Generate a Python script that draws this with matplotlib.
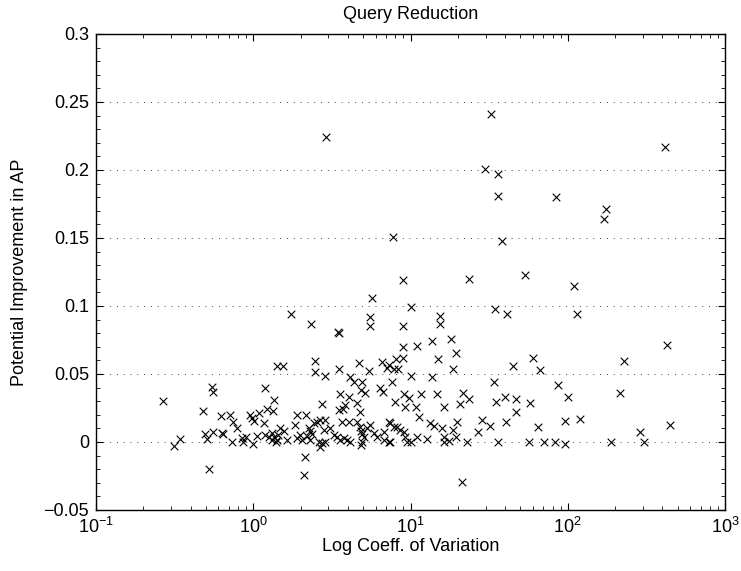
import matplotlib
matplotlib.use("Agg")
import matplotlib.pyplot as plt
from matplotlib.ticker import MultipleLocator, FuncFormatter, LogLocator, FixedLocator

plt.rcParams['font.family'] = ['Liberation Sans', 'DejaVu Sans']
plt.rcParams['mathtext.default'] = 'regular'

title = "Query Reduction"
xlabel = "Log Coeff. of Variation"
ylabel = "Potential Improvement in AP"

coeff_var = [
    2.90, 32.5, 417, 29.9, 36.2, 36.2, 83.6, 175, 169, 7.74, 38.4, 9.0, 23.7, 53.2, 110,
    10.1, 34.3, 40.8, 115, 9.0, 15.5, 15.3, 13.7, 18.2, 9.0, 11.0, 428, 5.65, 1.73, 2.32,
    3.44, 3.49, 5.51, 5.56, 8.11, 15.0, 19.6, 7.83, 8.30, 18.5, 10.1, 13.7, 7.64, 34.0, 44.9,
    60.1, 66.7, 229, 86.7, 101, 215, 9.06, 8.02, 9.75, 11.6, 14.8, 9.29, 10.9, 11.3, 16.3,
    21.7, 23.5, 20.6, 13.4, 14.1, 19.8, 15.9, 18.5, 16.3, 19.4, 17.5, 16.3, 11.0, 12.7, 9.53,
    10.0, 9.29, 8.63, 8.22, 7.83, 7.46, 7.46, 23.0, 26.8, 28.6, 32.0, 34.8, 39.9, 40.3, 46.9,
    46.9, 57.3, 64.4, 95.7, 120, 288, 449, 36.0, 56.7, 70.6, 83.0, 95.7, 188, 306, 21.3,
    9.06, 0.268, 0.315, 0.340, 0.525, 0.479, 0.495, 0.507, 0.546, 0.551, 0.553, 0.622, 0.632,
    0.64, 0.714, 0.743, 0.787, 0.728, 0.847, 0.899, 0.859, 0.947, 0.981, 1.005, 0.996, 1.056,
    1.09, 1.19, 1.175, 1.23, 1.33, 1.36, 1.42, 1.54, 1.19, 1.26, 1.31, 1.36, 1.42, 1.49,
    1.56, 1.64, 1.40, 1.31, 1.44, 1.85, 1.90, 1.97, 1.90, 2.04, 2.12, 2.09, 2.15, 2.25,
    2.31, 2.36, 2.20, 2.29, 2.42, 2.55, 2.67, 2.88, 2.61, 2.67, 2.72, 2.88, 2.81, 2.48,
    2.46, 2.88, 2.72, 3.49, 3.58, 3.49, 3.71, 3.86, 4.05, 4.15, 4.36, 4.71, 4.92, 4.81,
    5.17, 4.58, 4.75, 4.05, 5.42, 6.44, 6.70, 6.61, 7.11, 7.28, 3.09, 3.25, 3.41, 3.58,
    3.76, 3.95, 4.15, 3.67, 4.58, 4.75, 4.81, 4.92, 5.05, 4.92, 4.86, 5.30, 5.56, 5.83,
    6.13, 6.77, 7.28, 6.77, 7.28, 9.0,
]
improvement = [
    0.224, 0.241, 0.217, 0.201, 0.197, 0.181, 0.180, 0.171, 0.164, 0.151, 0.148, 0.119, 0.120, 0.123, 0.115,
    0.099, 0.098, 0.094, 0.094, 0.085, 0.093, 0.087, 0.0745, 0.076, 0.070, 0.0706, 0.0713, 0.106, 0.094, 0.087,
    0.081, 0.080, 0.092, 0.085, 0.061, 0.061, 0.0657, 0.054, 0.054, 0.0537, 0.0488, 0.0476, 0.0443, 0.0439, 0.0559,
    0.062, 0.0527, 0.0598, 0.0419, 0.0329, 0.0358, 0.0353, 0.0296, 0.0321, 0.0351, 0.0351, 0.026, 0.026, 0.0186, 0.026,
    0.0358, 0.0316, 0.0279, 0.0142, 0.0118, 0.0149, 0.010, 0.0088, 0.0039, 0.0039, 0.0007, 0.0002, 0.0035, 0.0022, 0.0002,
    0.0002, 0.0035, 0.0088, 0.0113, 0.0113, 0.0137, 0.0002, -0.0002, 0.0071, 0.0162, 0.0118, 0.0296, 0.0329, 0.0149, 0.0316,
    0.0218, 0.0289, 0.0108, 0.0157, 0.0169, 0.0071, 0.0125, 0.0, 0.0, 0.0, 0.0, -0.0015, 0.0, 0.0, -0.0292,
    0.0076, 0.0301, -0.0029, 0.002, -0.0199, 0.023, 0.0059, 0.0024, 0.0402, 0.0368, 0.0076, 0.0189, 0.0068,
    0.0059, 0.0199, 0.0149, 0.010, 0.0, 0.0032, 0.0035, 0.0002, 0.0199, 0.0179, 0.0157, -0.0015, 0.0044,
    0.0211, 0.0399, 0.0137, 0.0243, 0.0228, 0.0309, 0.0561, 0.0561, 0.0051, 0.0039, 0.0064, 0.0035, 0.0015, 0.010,
    0.0083, 0.0015, 0.0002, 0.0015, 0.0051, 0.0125, 0.0199, 0.0051, 0.0027, 0.0015, -0.0113, -0.0243, 0.0199, 0.010,
    0.0083, 0.0059, 0.0046, 0.0015, 0.0137, 0.0149, 0.0162, 0.0162, 0.0002, -0.0034, -0.001, 0.0002, 0.0088, 0.0598,
    0.0517, 0.0488, 0.0277, 0.0537, 0.0351, 0.0235, 0.0243, 0.0272, 0.0333, 0.048, 0.0443, 0.0579, 0.0443, 0.0382,
    0.0358, 0.0285, 0.0223, 0.0149, 0.0522, 0.0399, 0.037, 0.0586, 0.0542, 0.0566, 0.010, 0.0051, 0.0039, 0.0015,
    0.0027, 0.0015, 0.0002, 0.0149, 0.0149, 0.0108, 0.0083, 0.0059, 0.0035, 0.0002, -0.0022, 0.010, 0.0125, 0.0064,
    0.0039, 0.0076, 0.0149, 0.0015, 0.0002, 0.0615,
]

y_ticks = [-0.05, 0, 0.05, 0.1, 0.15, 0.2, 0.25, 0.3]
x_ticks = [0.1, 1, 10, 100, 1000]
x_ticklabels = [r'$10^{-1}$', r'$10^{0}$', r'$10^{1}$', r'$10^{2}$', r'$10^{3}$']

fig = plt.figure(figsize=(7.41, 5.71), dpi=100)
ax = fig.add_axes([96/741, 1 - 510/571, 629/741, 476/571])

ax.scatter(coeff_var, improvement, marker='x', s=30, c='black', linewidths=0.8, zorder=3)

ax.set_xscale('log')
ax.set_xlim(0.1, 1000)
ax.set_ylim(-0.05, 0.3)

ax.xaxis.set_major_locator(FixedLocator(x_ticks))
ax.set_xticklabels(x_ticklabels)
ax.xaxis.set_minor_locator(LogLocator(base=10, subs=range(2, 10), numticks=20))

ax.yaxis.set_major_locator(FixedLocator(y_ticks))
ax.yaxis.set_minor_locator(MultipleLocator(0.01))
ax.yaxis.set_major_formatter(FuncFormatter(lambda v, p: ('%g' % round(v, 4)).replace('-', '\u2212')))

ax.tick_params(which='both', direction='in', top=True, right=True, labelsize=13, colors='black')
ax.tick_params(which='major', length=5, width=0.8)
ax.tick_params(which='minor', length=3, width=0.6)
ax.tick_params(axis='x', which='major', pad=5)
ax.tick_params(axis='y', which='major', pad=5)

for s in ax.spines.values():
    s.set_linewidth(1.0)
    s.set_color('black')

ax.yaxis.grid(True, which='major', linestyle=(0, (1, 6)), color='0.25', linewidth=0.7)
ax.set_axisbelow(True)

ax.set_title(title, fontsize=13, pad=11)
ax.set_xlabel(xlabel, fontsize=13, labelpad=1)
ax.set_ylabel(ylabel, fontsize=13)
ax.yaxis.set_label_coords((28 - 96) / 629, 0.5)

fig.savefig("out.png", dpi=100)
